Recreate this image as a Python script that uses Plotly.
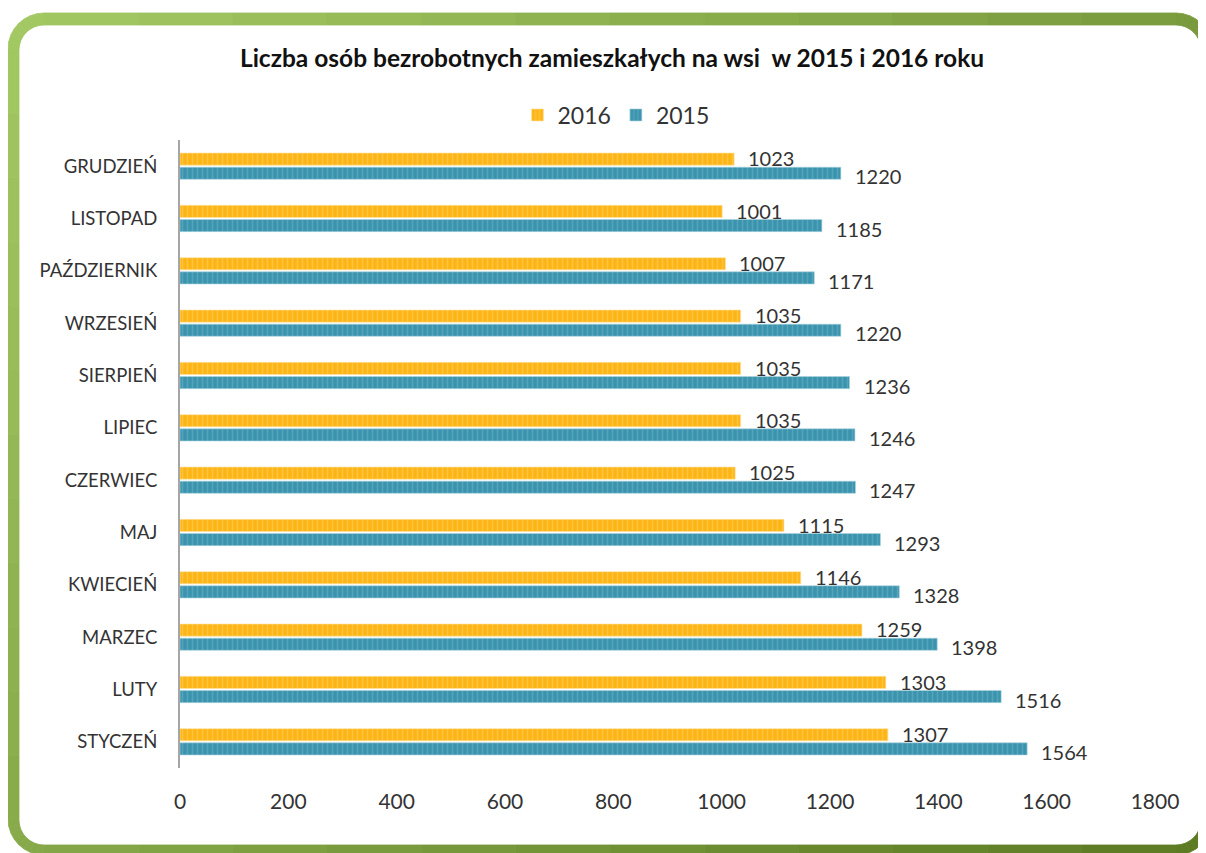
import plotly.graph_objects as go

# data
months = ["STYCZEŃ", "LUTY", "MARZEC", "KWIECIEŃ", "MAJ", "CZERWIEC",
          "LIPIEC", "SIERPIEŃ", "WRZESIEŃ", "PAŹDZIERNIK", "LISTOPAD", "GRUDZIEŃ"]
values_2015 = [1564, 1516, 1398, 1328, 1293, 1247, 1246, 1236, 1220, 1171, 1185, 1220]
values_2016 = [1307, 1303, 1259, 1146, 1115, 1025, 1035, 1035, 1035, 1007, 1001, 1023]
x_ticks = [0, 200, 400, 600, 800, 1000, 1200, 1400, 1600, 1800]

FONT = "Lato, 'Open Sans', sans-serif"
ORANGE = "#FDB515"
TEAL = "#3B94AE"

# page has an 8px body margin, so figure pixels = page pixels - 8
OFF = 8
W, H = 1206, 853
ML, MT = 180 - OFF, 140 - OFF
PR, PB = 1155 - OFF, 768 - OFF
MR, MB = W - PR, H - PB
PW, PH = PR - ML, PB - MT


def paper(x, y):
    # page pixel -> paper coordinates, decoration only
    return (x - OFF - ML) / PW, (H - MB - (y - OFF)) / PH


fig = go.Figure()

fig.add_trace(go.Bar(
    y=months, x=values_2015, orientation="h", name="2015",
    marker=dict(color=TEAL, line=dict(color="#A9D3DF", width=0.6),
                pattern=dict(shape="|", fgcolor="#6FB3C7", size=5, solidity=0.3)),
))
fig.add_trace(go.Bar(
    y=months, x=values_2016, orientation="h", name="2016",
    marker=dict(color=ORANGE, line=dict(color="#FFE2A0", width=0.6),
                pattern=dict(shape="|", fgcolor="#FFD36B", size=5, solidity=0.3)),
))

# value labels right of each bar
for i, m in enumerate(months):
    fig.add_annotation(x=values_2016[i], y=m, text=str(values_2016[i]),
                       xanchor="left", yshift=8, xshift=12, showarrow=False,
                       font=dict(family=FONT, size=20, color="#333333"))
    fig.add_annotation(x=values_2015[i], y=m, text=str(values_2015[i]),
                       xanchor="left", yshift=-10, xshift=12, showarrow=False,
                       font=dict(family=FONT, size=20, color="#333333"))


# rounded green frame with a diagonal light->dark gradient
def contour(l, t, r, b, rad, n_arc=8, n_side=12):
    import math
    pts = []
    corners = [(r - rad, t + rad, -90), (r - rad, b - rad, 0),
               (l + rad, b - rad, 90), (l + rad, t + rad, 180)]
    for k, (cx, cy, a0) in enumerate(corners):
        for j in range(n_arc + 1):
            a = math.radians(a0 + 90 * j / n_arc)
            pts.append((cx + rad * math.cos(a), cy + rad * math.sin(a)))
        nx, ny, na = corners[(k + 1) % 4]
        a_end = math.radians(a0 + 90)
        sx, sy = cx + rad * math.cos(a_end), cy + rad * math.sin(a_end)
        ex, ey = nx + rad * math.cos(math.radians(na)), ny + rad * math.sin(math.radians(na))
        for j in range(1, n_side):
            pts.append((sx + (ex - sx) * j / n_side, sy + (ey - sy) * j / n_side))
    return pts


outer = contour(8, 13, 1212, 855, 36)
inner = contour(19, 25, 1201, 845, 25)
light, dark = (0xA4, 0xCA, 0x64), (0x5C, 0x7A, 0x22)
for i in range(len(outer)):
    j = (i + 1) % len(outer)
    mx = (outer[i][0] + outer[j][0]) / 2
    my = (outer[i][1] + outer[j][1]) / 2
    t = min(1, max(0, 0.6 * mx / W + 0.4 * my / H))
    c = tuple(round(a + (b - a) * t) for a, b in zip(light, dark))
    quad = [outer[i], outer[j], inner[j], inner[i]]
    pp = [paper(x, y) for x, y in quad]
    path = "M " + " L ".join(f"{x:.5f},{y:.5f}" for x, y in pp) + " Z"
    col = f"rgb{c}"
    fig.add_shape(type="path", path=path, xref="paper", yref="paper",
                  fillcolor=col, line=dict(color=col, width=0.8), layer="below")

fig.update_layout(
    width=W, height=H,
    margin=dict(l=ML, r=MR, t=MT, b=MB),
    paper_bgcolor="white", plot_bgcolor="white",
    barmode="group", bargap=0.46, bargroupgap=0.14,
    title=dict(text="<b>Liczba osób bezrobotnych zamieszkałych na wsi  w 2015 i 2016 roku</b>",
               x=(612 - OFF) / W, xanchor="center", y=1 - (58 - OFF) / H, yanchor="middle",
               font=dict(family=FONT, size=24.5, color="#111111")),
    legend=dict(orientation="h", x=(616 - OFF - ML) / PW, xanchor="center",
                y=1 + 25 / PH, yanchor="middle", traceorder="reversed",
                font=dict(family=FONT, size=23, color="#333333"),
                itemwidth=30),
    showlegend=True,
    xaxis=dict(range=[0, 1800], tickvals=x_ticks, showgrid=False, zeroline=False,
               showline=False, ticks="", ticklabelstandoff=19,
               tickfont=dict(family=FONT, size=21, color="#333333")),
    yaxis=dict(showgrid=False, zeroline=False, showline=True, linecolor="#A6A6A6",
               linewidth=2, ticks="", ticklabelstandoff=17,
               tickfont=dict(family=FONT, size=18.5, color="#333333")),
)

fig.write_html("out.html")
